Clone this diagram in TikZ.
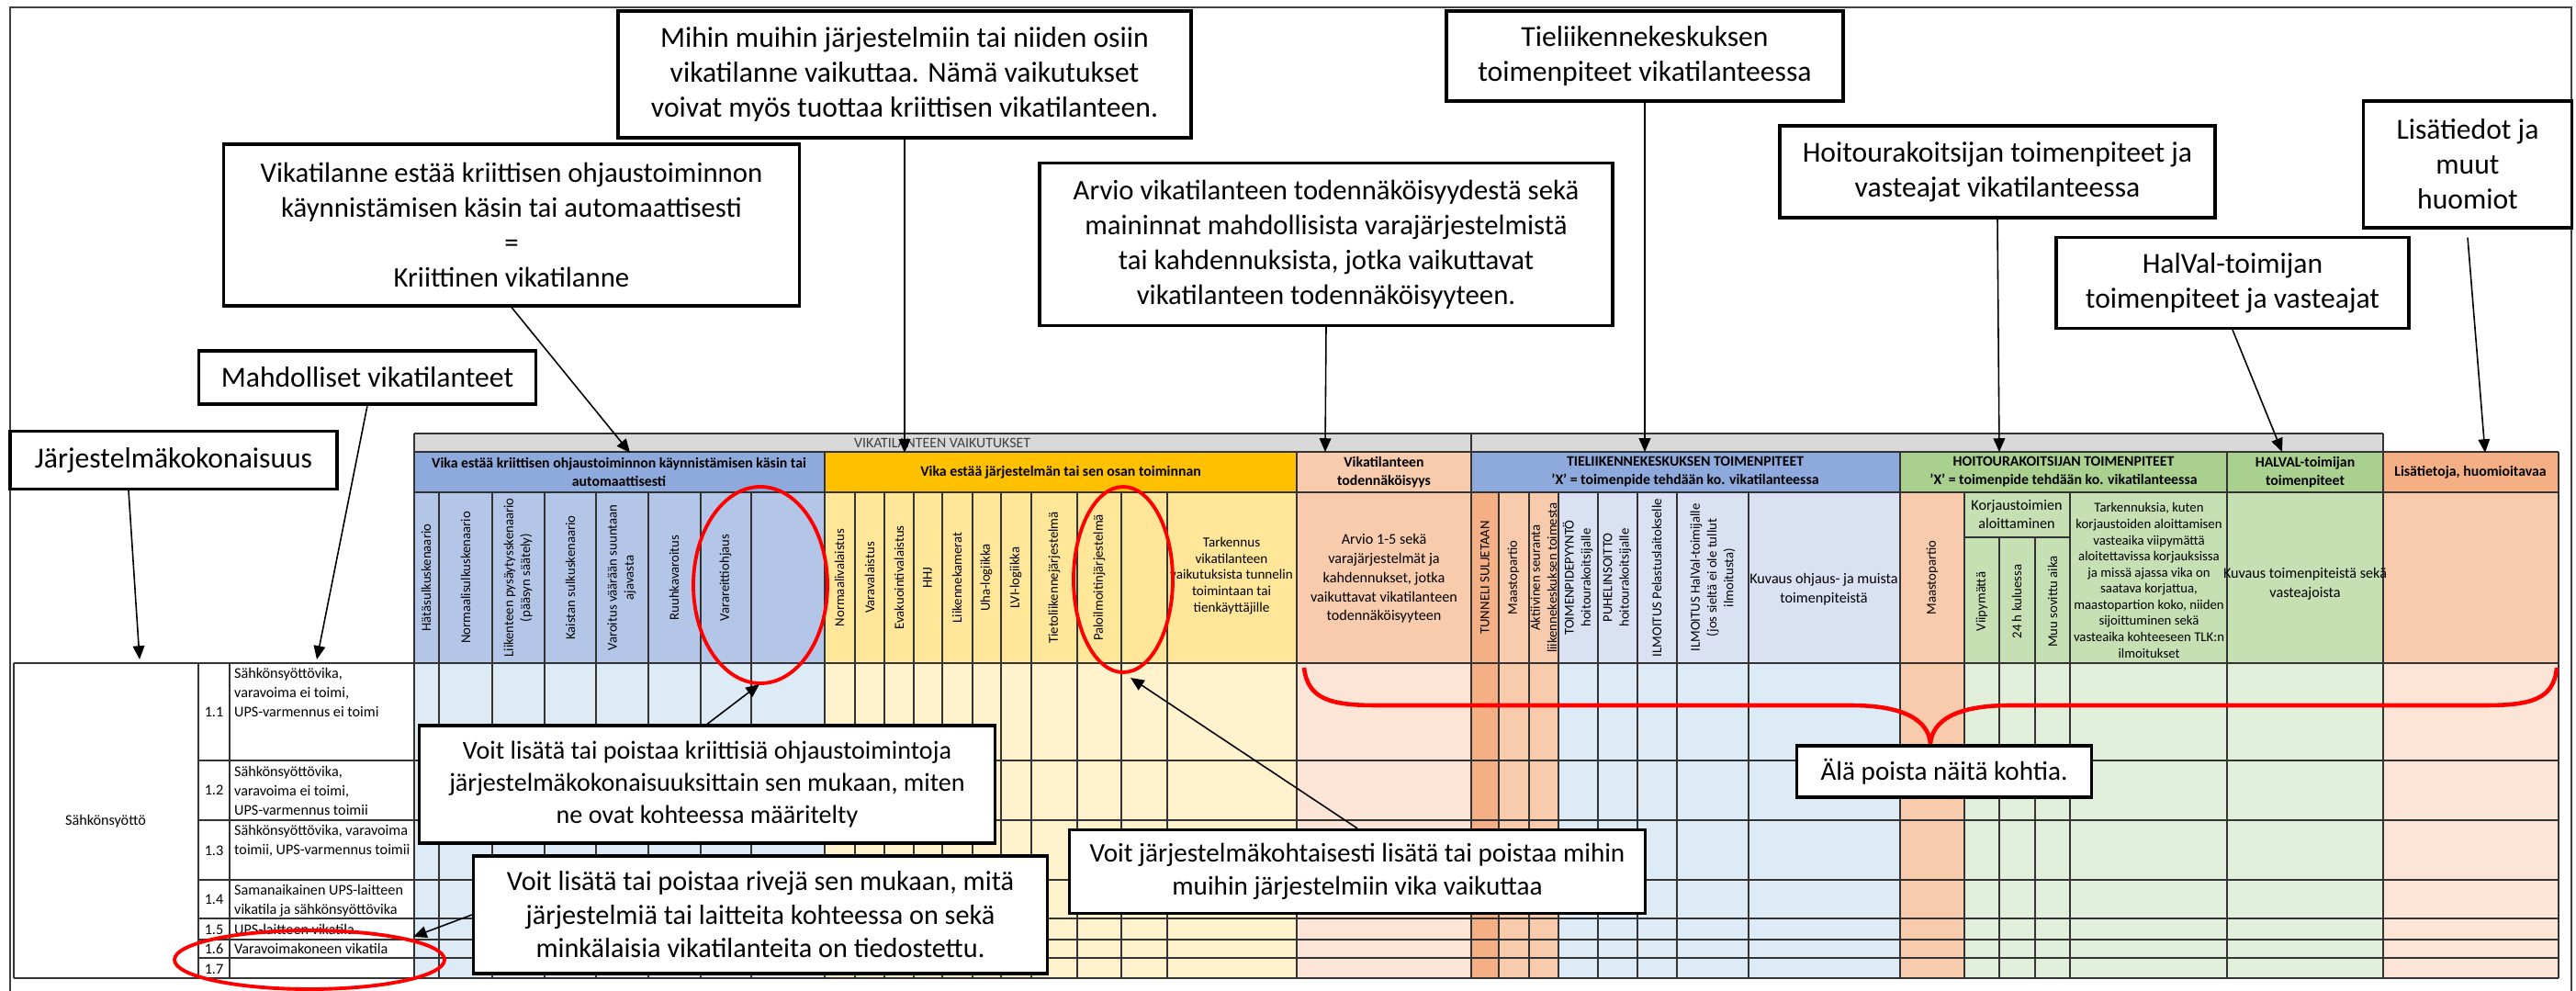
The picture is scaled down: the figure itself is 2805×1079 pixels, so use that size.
\documentclass[tikz,border=0pt]{standalone}
\usepackage{fontspec}
\setmainfont{Carlito}
\usepackage{tikz}
\usetikzlibrary{arrows.meta}
\usepackage{xcolor}
\definecolor{hdrblue}{HTML}{8EA9DB}
\definecolor{colblue}{HTML}{B4C6E7}
\definecolor{rowblue}{HTML}{DDEBF7}
\definecolor{tlkblue}{HTML}{D9E1F2}
\definecolor{hdryellow}{HTML}{FFC000}
\definecolor{colyellow}{HTML}{FFE699}
\definecolor{rowyellow}{HTML}{FFF2CC}
\definecolor{peach}{HTML}{F8CBAD}
\definecolor{rowpeach}{HTML}{FCE4D6}
\definecolor{darkpeach}{HTML}{F4B084}
\definecolor{hdrgreen}{HTML}{A9D08E}
\definecolor{colgreen}{HTML}{C6E0B4}
\definecolor{rowgreen}{HTML}{E2EFDA}
\definecolor{greyband}{HTML}{D9D9D9}

\begin{document}
\begin{tikzpicture}[x=0.1mm,y=-0.1mm,
  callout/.style={draw=black,line width=0.9pt,fill=white,align=center,inner sep=0pt,font=\fontsize{9}{10.8}\selectfont},
  pointer/.style={line width=0.45pt,-{Triangle[width=3.6pt,length=4.2pt]}},
  grid/.style={line width=0.4pt,black!80},
  hdr/.style={align=center,inner sep=0pt,font=\fontsize{4.5}{5.7}\selectfont\bfseries},
  coltext/.style={rotate=90,align=center,inner sep=0pt,font=\fontsize{4.2}{5.2}\selectfont},
  celltext/.style={align=center,inner sep=0pt,font=\fontsize{4.6}{5.9}\selectfont},
  rowtext/.style={align=left,inner sep=1pt,font=\fontsize{4.6}{6}\selectfont},
  redring/.style={red,line width=1.1pt}]
\useasboundingbox (0,0) rectangle (2805,1079);
\fill[white] (0,0) rectangle (2805,1079);
\draw[line width=0.7pt,black!75] (11,1079) -- (11,8) -- (2800,8) -- (2800,1079);
%%%%%%%%%%%%%%%%
% header bands
\fill[greyband] (451,472) rectangle (2595,492);
\fill[hdrblue] (451,492) rectangle (898,536);
\fill[hdryellow] (898,492) rectangle (1412,536);
\fill[peach] (1412,492) rectangle (1602,536);
\fill[hdrblue] (1602,492) rectangle (2069,536);
\fill[hdrgreen] (2069,492) rectangle (2595,536);
\fill[darkpeach] (2595,492) rectangle (2786,536);
%%%%%%%%%%%%%%%%
% column headers
\fill[colblue] (451,536) rectangle (898,722);
\fill[colyellow] (898,536) rectangle (1412,722);
\fill[peach] (1412,536) rectangle (1602,722);
\fill[darkpeach] (1602,536) rectangle (1632,722);
\fill[peach] (1632,536) rectangle (1697,722);
\fill[tlkblue] (1697,536) rectangle (2069,722);
\fill[peach] (2069,536) rectangle (2139,722);
\fill[colgreen] (2139,536) rectangle (2595,722);
\fill[peach] (2595,536) rectangle (2786,722);
%%%%%%%%%%%%%%%%
% rows
\fill[rowblue] (451,722) rectangle (898,1065);
\fill[rowyellow] (898,722) rectangle (1412,1065);
\fill[rowpeach] (1412,722) rectangle (1602,1065);
\fill[darkpeach] (1602,722) rectangle (1632,1065);
\fill[peach] (1632,722) rectangle (1697,1065);
\fill[rowblue] (1697,722) rectangle (2069,1065);
\fill[peach] (2069,722) rectangle (2139,1065);
\fill[rowgreen] (2139,722) rectangle (2595,1065);
\fill[rowpeach] (2595,722) rectangle (2786,1065);
%%%%%%%%%%%%%%%%
% grid
\draw[grid] (451,472) -- (2595,472);
\draw[grid] (451,492) -- (2786,492);
\draw[grid] (451,536) -- (2786,536);
\draw[grid] (2139,585) -- (2254,585);
\draw[grid] (15,722) -- (2786,722);
\draw[grid] (15,1065) -- (2786,1065);
\foreach \y in {828,893,958,1000,1023,1043} \draw[grid] (216,\y) -- (2786,\y);
\foreach \x in {451,1602,2595} \draw[grid] (\x,472) -- (\x,492);
\foreach \x in {451,898,1412,1602,2069,2425,2595,2786} \draw[grid] (\x,492) -- (\x,1065);
\foreach \x in {478,536,593,649,706,763,818,931,963,995,1026,1059,1090,1123,1173,1221,1271,1632,1665,1697,1740,1783,1826,1904,2139,2254} \draw[grid] (\x,536) -- (\x,1065);
\foreach \x in {2177,2216} \draw[grid] (\x,585) -- (\x,1065);
\foreach \x in {15,216,250} \draw[grid] (\x,722) -- (\x,1065);
%%%%%%%%%%%%%%%%
% header texts
\node[celltext,text=black!75,font=\fontsize{4.5}{5.7}\selectfont] (vaik) at (1026,482) {VIKATILANTEEN VAIKUTUKSET};
\node[hdr] (hkriit) at (674,514) {Vika estää kriittisen ohjaustoiminnon käynnistämisen käsin tai\\automaattisesti};
\node[hdr] (hjarj) at (1155,514) {Vika estää järjestelmän tai sen osan toiminnan};
\node[hdr] (htod) at (1507,514) {Vikatilanteen\\todennäköisyys};
\node[hdr] (htlk) at (1835,514) {TIELIIKENNEKESKUKSEN TOIMENPITEET\\'X' = toimenpide tehdään ko. vikatilanteessa};
\node[hdr] (hhoito) at (2247,514) {HOITOURAKOITSIJAN TOIMENPITEET\\'X' = toimenpide tehdään ko. vikatilanteessa};
\node[hdr] (hhalval) at (2510,514) {HALVAL-toimijan\\toimenpiteet};
\node[hdr] (hlisa) at (2690,514) {Lisätietoja, huomioitavaa};
%%%%%%%%%%%%%%%%
% blue columns
\node[coltext] (c1) at (464,629) {Hätäsulkuskenaario};
\node[coltext] (c2) at (507,629) {Normaalisulkuskenaario};
\node[coltext] (c3) at (564,629) {Liikenteen pysäytysskenaario\\(pääsyn säätely)};
\node[coltext] (c4) at (621,629) {Kaistan sulkuskenaario};
\node[coltext] (c5) at (677,629) {Varoitus väärään suuntaan\\ajavasta};
\node[coltext] (c6) at (734,629) {Ruuhkavaroitus};
\node[coltext] (c7) at (790,629) {Varareittiohjaus};
%%%%%%%%%%%%%%%%
% yellow columns
\node[coltext] (y1) at (914,629) {Normaalivalaistus};
\node[coltext] (y2) at (947,629) {Varavalaistus};
\node[coltext] (y3) at (979,629) {Evakuointivalaistus};
\node[coltext] (y4) at (1010,629) {HHJ};
\node[coltext] (y5) at (1042,629) {Liikennekamerat};
\node[coltext] (y6) at (1074,629) {Uha-logiikka};
\node[coltext] (y7) at (1106,629) {LVI-logiikka};
\node[coltext] (y8) at (1148,629) {Tietoliikennejärjestelmä};
\node[coltext] (y9) at (1197,629) {Paloilmoitinjärjestelmä};
\node[celltext,font=\fontsize{4.3}{5.1}\selectfont] (y10) at (1341,627) {Tarkennus\\vikatilanteen\\vaikutuksista tunnelin\\toimintaan tai\\tienkäyttäjille};
%%%%%%%%%%%%%%%%
\node[celltext] (arv) at (1507,630) {Arvio 1-5 sekä\\varajärjestelmät ja\\kahdennukset, jotka\\vaikuttavat vikatilanteen\\todennäköisyyteen};
%%%%%%%%%%%%%%%%
% tieliikennekeskus columns
\node[coltext] (t1) at (1617,629) {TUNNELI SULJETAAN};
\node[coltext] (t2) at (1648,629) {Maastopartio};
\node[coltext] (t3) at (1681,629) {Aktiivinen seuranta\\liikennekeskuksen toimesta};
\node[coltext] (t4) at (1718,629) {TOIMENPIDEPYYNTÖ\\hoitourakoitsijalle};
\node[coltext] (t5) at (1761,629) {PUHELINSOITTO\\hoitourakoitsijalle};
\node[coltext] (t6) at (1804,629) {ILMOITUS Pelastuslaitokselle};
\node[coltext] (t7) at (1865,629) {ILMOITUS HalVal-toimijalle\\(jos sieltä ei ole tullut\\ilmoitusta)};
\node[celltext] (t8) at (1986,642) {Kuvaus ohjaus- ja muista\\toimenpiteistä};
%%%%%%%%%%%%%%%%
% hoitourakoitsija columns
\node[coltext] (u1) at (2104,629) {Maastopartio};
\node[celltext] (u2) at (2196,560) {Korjaustoimien\\aloittaminen};
\node[coltext] (u3) at (2158,655) {Viipymättä};
\node[coltext] (u4) at (2196,655) {24 h kuluessa};
\node[coltext] (u5) at (2235,655) {Muu sovittu aika};
\begin{scope}
\clip (2254,536) rectangle (2425,722);
\node[celltext,font=\fontsize{4.2}{5}\selectfont,anchor=north] (u6) at (2340,547) {Tarkennuksia, kuten\\korjaustoiden aloittamisen\\vasteaika viipymättä\\aloitettavissa korjauksissa\\ja missä ajassa vika on\\saatava korjattua,\\maastopartion koko, niiden\\sijoittuminen sekä\\vasteaika kohteeseen TLK:n\\ilmoitukset};
\end{scope}
\node[celltext] (h1) at (2510,636) {Kuvaus toimenpiteistä sekä\\vasteajoista};
%%%%%%%%%%%%%%%%
% rows
\node[rowtext] (sahko) at (115,894) {Sähkönsyöttö};
\node[rowtext] (n11) at (233,775) {1.1};
\node[rowtext] (n12) at (233,860) {1.2};
\node[rowtext] (n13) at (233,926) {1.3};
\node[rowtext] (n14) at (233,979) {1.4};
\node[rowtext] (n15) at (233,1012) {1.5};
\node[rowtext] (n16) at (233,1033) {1.6};
\node[rowtext] (n17) at (233,1055) {1.7};
\node[rowtext,anchor=north west] (r11) at (251,723) {Sähkönsyöttövika,\\varavoima ei toimi,\\UPS-varmennus ei toimi};
\node[rowtext,anchor=north west] (r12) at (251,830) {Sähkönsyöttövika,\\varavoima ei toimi,\\UPS-varmennus toimii};
\node[rowtext,anchor=north west] (r13) at (251,894) {Sähkönsyöttövika, varavoima\\toimii, UPS-varmennus toimii};
\node[rowtext,anchor=north west] (r14) at (251,959) {Samanaikainen UPS-laitteen\\vikatila ja sähkönsyöttövika};
\node[rowtext,anchor=west] (r15) at (251,1012) {UPS-laitteen vikatila};
\node[rowtext,anchor=west] (r16) at (251,1033) {Varavoimakoneen vikatila};
%%%%%%%%%%%%%%%%
% red marks
\draw[redring] (828,637) ellipse [x radius=7.3mm, y radius=10.7mm];
\draw[redring] (1223,631) ellipse [x radius=5.4mm, y radius=10.1mm];
\draw[redring] (337,1045) ellipse [x radius=14.7mm, y radius=3.2mm];
\draw[red,line width=1.3pt] (1420,727) .. controls (1424,762) and (1450,768) .. (1500,768) -- (2015,768) .. controls (2075,768) and (2100,785) .. (2102,810) .. controls (2104,785) and (2129,768) .. (2189,768) -- (2705,768) .. controls (2755,768) and (2781,762) .. (2784,727);
%%%%%%%%%%%%%%%%
% callouts
\node[callout,minimum width=62.4mm,minimum height=13.8mm] (mihin) at (985,81) {Mihin muihin järjestelmiin tai niiden osiin\\vikatilanne vaikuttaa. Nämä vaikutukset\\voivat myös tuottaa kriittisen vikatilanteen.};
\node[callout,minimum width=62.7mm,minimum height=17.6mm,font=\fontsize{8.75}{10.8}\selectfont] (kriit) at (557,245) {Vikatilanne estää kriittisen ohjaustoiminnon\\käynnistämisen käsin tai automaattisesti\\=\\Kriittinen vikatilanne};
\node[callout,minimum width=36.7mm,minimum height=5.8mm] (mahd) at (400,411) {Mahdolliset vikatilanteet};
\node[callout,minimum width=35.6mm,minimum height=6.3mm] (jarj) at (189,501) {Järjestelmäkokonaisuus};
\node[callout,minimum width=62.4mm,minimum height=17.7mm,font=\fontsize{8.75}{10.8}\selectfont] (arvio) at (1444,266) {Arvio vikatilanteen todennäköisyydestä sekä\\maininnat mahdollisista varajärjestelmistä\\tai kahdennuksista, jotka vaikuttavat\\vikatilanteen todennäköisyyteen.};
\node[callout,minimum width=43.2mm,minimum height=9.8mm] (tlk) at (1791,61) {Tieliikennekeskuksen\\toimenpiteet vikatilanteessa};
\node[callout,minimum width=47.4mm,minimum height=10mm] (hoito) at (2175,187) {Hoitourakoitsijan toimenpiteet ja\\vasteajat vikatilanteessa};
\node[callout,minimum width=38.4mm,minimum height=9.9mm] (halval) at (2431,308) {HalVal-toimijan\\toimenpiteet ja vasteajat};
\node[callout,minimum width=22.7mm,minimum height=13.8mm] (lisa) at (2687,179) {Lisätiedot ja\\muut\\huomiot};
\node[callout,minimum width=32.1mm,minimum height=5.6mm,font=\fontsize{8.3}{10}\selectfont] (ala) at (2117,840) {Älä poista näitä kohtia.};
\node[callout,minimum width=62.7mm,minimum height=12.8mm,font=\fontsize{8}{10}\selectfont] (voitK) at (770,854) {Voit lisätä tai poistaa kriittisiä ohjaustoimintoja\\järjestelmäkokonaisuuksittain sen mukaan, miten\\ne ovat kohteessa määritelty};
\node[callout,minimum width=62.5mm,minimum height=12.8mm,font=\fontsize{8.6}{10.4}\selectfont] (voitR) at (828,996) {Voit lisätä tai poistaa rivejä sen mukaan, mitä\\järjestelmiä tai laitteita kohteessa on sekä\\minkälaisia vikatilanteita on tiedostettu.};
\node[callout,minimum width=62.7mm,minimum height=9.1mm,font=\fontsize{8.3}{10.4}\selectfont] (voitJ) at (1478,949) {Voit järjestelmäkohtaisesti lisätä tai poistaa mihin\\muihin järjestelmiin vika vaikuttaa};
%%%%%%%%%%%%%%%%
% pointers
\coordinate (tipMihin) at (985,493);
\coordinate (tipKriit) at (686,493);
\coordinate (tipMahd) at (345,718);
\coordinate (tipJarj) at (152,718);
\coordinate (tipArvio) at (1443,492);
\coordinate (tipTlk) at (1791,492);
\coordinate (tipHoito) at (2177,492);
\coordinate (tipHalval) at (2485,492);
\coordinate (tipLisa) at (2706,493);
\coordinate (tipVoitK) at (827,745);
\coordinate (tipVoitR) at (450,1020);
\coordinate (tipVoitJ) at (1231,738);
\draw[pointer] (mihin.south) -- (tipMihin);
\draw[pointer] (kriit.south) -- (tipKriit);
\draw[pointer] (mahd.south) -- (tipMahd);
\draw[pointer] ([xshift=-4.9mm]jarj.south) -- (tipJarj);
\draw[pointer] (arvio.south) -- (tipArvio);
\draw[pointer] (tlk.south) -- (tipTlk);
\draw[pointer] (hoito.south) -- (tipHoito);
\draw[pointer] (halval.south) -- (tipHalval);
\draw[pointer] ([yshift=-0.9mm]lisa.south) -- (tipLisa);
\draw[pointer] (voitK.north) -- (tipVoitK);
\draw[pointer] (voitR.west) -- (tipVoitR);
\draw[pointer] (voitJ.north) -- (tipVoitJ);
\end{tikzpicture}
\end{document}
